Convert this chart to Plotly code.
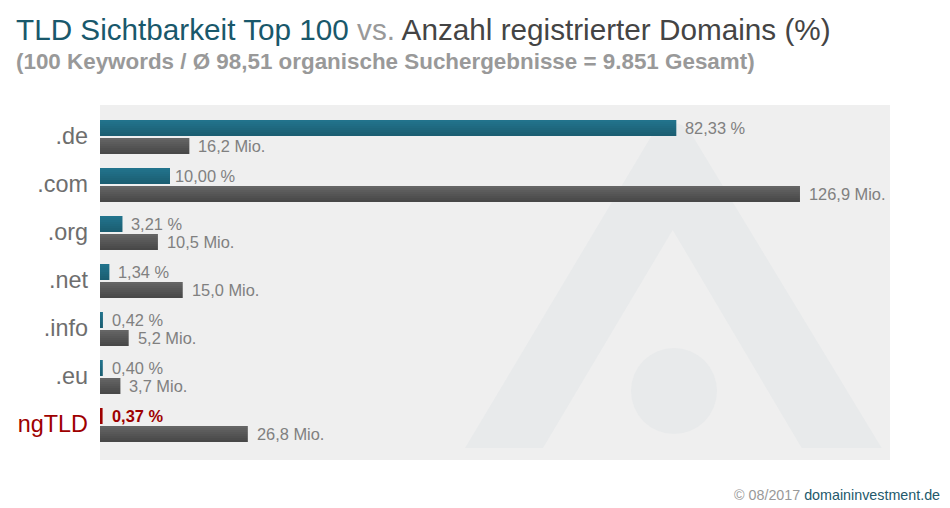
import plotly.graph_objects as go

categories = [".de", ".com", ".org", ".net", ".info", ".eu", "ngTLD"]
visibility_pct = [82.33, 10.00, 3.21, 1.34, 0.42, 0.40, 0.37]
domains_mio = [16.2, 126.9, 10.5, 15.0, 5.2, 3.7, 26.8]
visibility_labels = ["82,33 %", "10,00 %", "3,21 %", "1,34 %", "0,42 %", "0,40 %", "0,37 %"]
domains_labels = ["16,2 Mio.", "126,9 Mio.", "10,5 Mio.", "15,0 Mio.", "5,2 Mio.", "3,7 Mio.", "26,8 Mio."]

W, H = 950, 508
L, R, T, B = 100, 890, 105, 460
PW, PH = R - L, B - T
STEP = 48
FONT = "Liberation Sans, Arial, sans-serif"
RED = "#9e0000"

TEAL = ["#22738c", "#217088", "#206d85", "#1f6a81", "#1e677d", "#1d6479", "#1c6175", "#1b5e72"]
DARK = ["#656565", "#606060", "#5c5c5c", "#585858", "#545454", "#505050", "#4c4c4c", "#484848"]

fig = go.Figure()
strip = 2 / STEP
for k, (ct, cd) in enumerate(zip(TEAL, DARK)):
    fig.add_bar(y=categories, x=visibility_pct, orientation="h", xaxis="x", yaxis="y",
                width=strip, offset=-17 / STEP + k * strip,
                marker=dict(color=[ct] * 6 + [RED], line_width=0), showlegend=False, hoverinfo="skip")
    fig.add_bar(y=categories, x=domains_mio, orientation="h", xaxis="x2", yaxis="y",
                width=strip, offset=1 / STEP + k * strip,
                marker=dict(color=cd, line_width=0), showlegend=False, hoverinfo="skip")


def px(x):
    return (x - L) / PW


def py(y):
    return 1 - (y - T) / PH


logo = [(465, 448), (543, 448), (672.7, 230), (801.7, 448), (881.7, 448), (692, 135), (682, 125),
        (672, 122), (662, 125), (652, 135)]
path = "M " + " L ".join(f"{px(a):.5f},{py(b):.5f}" for a, b in logo) + " Z"
shapes = [
    dict(type="path", path=path, xref="paper", yref="paper", fillcolor="#e8eaeb", line_width=0, layer="below"),
    dict(type="circle", xref="paper", yref="paper", x0=px(631), x1=px(717), y0=py(434), y1=py(348),
         fillcolor="#e8eaeb", line_width=0, layer="below"),
]

annotations = []
for i, (cat, vp, dm, lp, ld) in enumerate(zip(categories, visibility_pct, domains_mio,
                                               visibility_labels, domains_labels)):
    is_ng = cat == "ngTLD"
    annotations.append(dict(
        x=vp, y=i - 9 / STEP, xref="x", yref="y", xanchor="left", yanchor="middle",
        xshift=5 if cat == ".com" else 9, showarrow=False, borderpad=0, borderwidth=0,
        text=f"<b>{lp}</b>" if is_ng else lp,
        font=dict(family=FONT, size=16.4, color=RED if is_ng else "#808080"),
    ))
    annotations.append(dict(
        x=dm, y=i + 9 / STEP, xref="x2", yref="y", xanchor="left", yanchor="middle",
        xshift=9, showarrow=False, borderpad=0, borderwidth=0, text=ld,
        font=dict(family=FONT, size=16.4, color="#808080"),
    ))

annotations.append(dict(
    x=px(14), y=py(62), xref="paper", yref="paper", showarrow=False, xanchor="left", yanchor="middle",
    text="<b>(100 Keywords / Ø 98,51 organische Suchergebnisse = 9.851 Gesamt)</b>",
    font=dict(family=FONT, size=22.4, color="#999999"),
))
annotations.append(dict(
    x=px(942), y=py(495), xref="paper", yref="paper", showarrow=False, xanchor="right", yanchor="middle",
    text='<span style="color:#999999">© 08/2017</span> <span style="color:#24596b">domaininvestment.de</span>',
    font=dict(family=FONT, size=14.3),
))

ticktext = [f'<span style="color:{RED}">{c}</span>' if c == "ngTLD" else c for c in categories]

fig.update_layout(
    width=W, height=H, margin=dict(l=L, r=W - R, t=T, b=H - B, pad=0),
    barmode="overlay", paper_bgcolor="#ffffff", plot_bgcolor="#efefef",
    shapes=shapes, annotations=annotations, showlegend=False,
    title=dict(
        text='<span style="color:#19586b">TLD Sichtbarkeit Top 100</span> '
             '<span style="color:#999999">vs.</span> '
             '<span style="color:#444444">Anzahl registrierter Domains (%)</span>',
        xref="container", yref="container", x=16 / W, y=1 - 30 / H, xanchor="left", yanchor="middle",
        font=dict(family=FONT, size=29.7),
    ),
    xaxis=dict(range=[0, PW / 7.0], visible=False, fixedrange=True),
    xaxis2=dict(range=[0, PW / 5.516], visible=False, overlaying="x", fixedrange=True),
    yaxis=dict(
        type="category", categoryorder="array", categoryarray=categories,
        range=[(B - 137) / STEP, (T - 137) / STEP],
        tickmode="array", tickvals=categories, ticktext=ticktext, ticks="", ticklen=0,
        showgrid=False, zeroline=False, showline=False, ticklabelstandoff=11, ticklabelshift=1,
        tickfont=dict(family=FONT, size=23.4, color="#6e6e6e"), fixedrange=True,
    ),
)

fig.write_html("out.html", config={"displayModeBar": False},
               post_script="document.body.style.margin='0';")
